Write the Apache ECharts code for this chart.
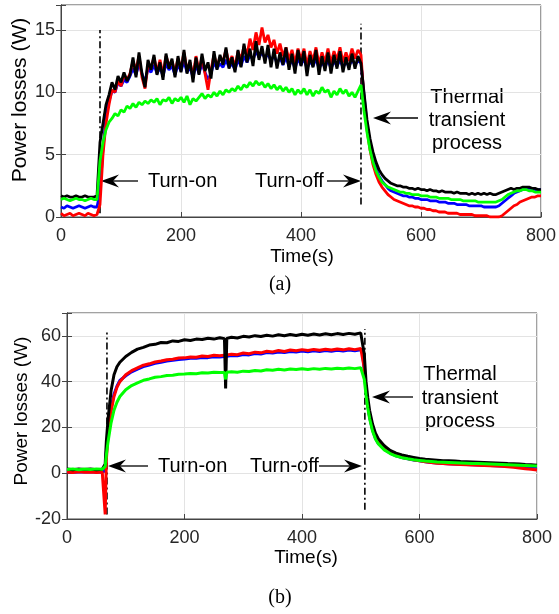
<!DOCTYPE html>
<html>
<head>
    <meta charset="utf-8" />
    <title>Power losses</title>
    <style>
        * { margin: 0; padding: 0 }
        html, body { width: 100%; height: 100%; background: #fff; }
        #chart { width: 559px; height: 614px; }
    </style>
</head>
<body>
    <div id="chart"></div>
    <script src="https://cdn.jsdelivr.net/npm/echarts@6/dist/echarts.min.js"></script>
    <script>
        // ---- (a) sampled every 5 s, 0..800
        const timeA = Array.from({ length: 161 }, (_, i) => i * 5);
        const blackA = [
            1.7, 1.6, 1.7, 1.6, 1.6, 1.7, 1.6, 1.6, 1.7, 1.6, 1.6, 1.6, 1.7,
            6.0, 7.5, 9.0, 9.8, 10.8, 10.2, 11.3, 10.8,
            11.6, 10.9, 11.4, 12.8, 11.2, 13.2, 11.5, 10.4, 12.6, 11.8,
            13.0, 11.4, 12.4, 11.0, 13.1, 11.9, 12.7, 11.2, 12.9, 11.6,
            13.4, 11.5, 12.6, 10.8, 12.8, 11.4, 13.1, 11.7, 12.4, 11.1,
            13.3, 11.8, 13.0, 12.2, 13.6, 11.9, 12.8, 11.6, 13.4, 12.0,
            13.9, 12.4, 13.5, 12.1, 14.1, 12.6, 13.7, 12.3, 13.8, 12.0,
            13.5, 11.9, 13.2, 12.2, 13.6, 11.8, 13.1, 11.5, 13.4, 12.1,
            13.3, 11.3, 13.0, 12.0, 13.4, 11.4, 12.9, 11.7, 13.2, 11.5,
            13.0, 11.9, 13.3, 11.6, 12.8, 11.8, 13.1, 11.9, 12.9, 12.3,
            10.0, 7.8, 6.3, 5.2, 4.4, 3.8, 3.4, 3.1, 2.9, 2.7,
            2.6, 2.5, 2.5, 2.4, 2.4, 2.3, 2.3, 2.2, 2.3, 2.2,
            2.2, 2.1, 2.2, 2.1, 2.1, 2.0, 2.1, 2.0, 2.0, 2.0,
            1.9, 2.0, 1.9, 1.9, 1.9, 1.8, 1.9, 1.8, 1.9, 1.8,
            1.9, 1.8, 1.9, 1.8, 1.8, 1.9, 2.0, 2.1, 2.2, 2.3,
            2.2, 2.3, 2.3, 2.4, 2.4, 2.4, 2.3, 2.3, 2.2, 2.2
        ];
        const redA = [
            0.3, 0.1, 0.2, 0.3, 0.1, 0.2, 0.3, 0.2, 0.1, 0.3, 0.2, 0.1, 0.2,
            1.0, 5.0, 7.5, 9.0, 10.2, 10.0, 11.0, 10.5,
            11.4, 11.0, 11.5, 12.5, 11.8, 12.9, 11.2, 10.3, 12.2, 12.0,
            12.8, 11.6, 12.6, 11.4, 12.9, 12.2, 12.5, 11.6, 12.7, 11.9,
            13.2, 11.8, 12.4, 11.3, 12.9, 11.7, 12.8, 11.5, 10.2, 11.8,
            13.0, 12.1, 12.8, 12.5, 13.4, 12.3, 12.9, 12.0, 13.3, 12.6,
            13.7, 13.0, 14.3, 13.4, 14.8, 13.8, 15.2, 14.0, 14.6, 13.6,
            14.2, 13.1, 13.9, 12.9, 13.6, 12.6, 13.4, 12.3, 13.5, 12.6,
            13.5, 12.1, 13.3, 12.5, 13.6, 12.2, 13.2, 12.4, 13.5, 12.3,
            13.3, 12.6, 13.6, 12.4, 13.2, 12.5, 13.5, 12.7, 13.4, 13.0,
            9.5, 7.0, 5.4, 4.2, 3.4, 2.8, 2.4, 2.1, 1.8, 1.6,
            1.4, 1.3, 1.2, 1.1, 1.0, 0.9, 0.9, 0.8, 0.8, 0.7,
            0.7, 0.6, 0.6, 0.5, 0.5, 0.4, 0.4, 0.4, 0.3, 0.3,
            0.3, 0.3, 0.2, 0.2, 0.2, 0.2, 0.2, 0.1, 0.1, 0.1,
            0.1, 0.1, 0.0, 0.0, 0.0, 0.0, 0.1, 0.3, 0.5, 0.7,
            0.9, 1.0, 1.2, 1.3, 1.4, 1.5, 1.6, 1.6, 1.7, 1.7
        ];
        const blueA = [
            0.8, 0.7, 0.9, 0.8, 0.7, 0.8, 0.9, 0.8, 0.7, 0.8, 0.9, 0.8, 0.8,
            2.0, 5.5, 8.0, 9.3, 10.1, 10.0, 10.8, 10.5,
            11.0, 10.8, 11.3, 11.9, 11.4, 12.3, 11.5, 10.8, 11.9, 11.6,
            12.2, 11.5, 12.0, 11.3, 12.3, 11.8, 12.1, 11.4, 12.2, 11.7,
            12.5, 11.6, 12.0, 11.2, 12.2, 11.5, 12.3, 11.6, 11.0, 11.5,
            12.4, 11.9, 12.3, 12.0, 12.6, 12.0, 12.3, 11.8, 12.6, 12.1,
            12.9, 12.4, 13.0, 12.6, 13.3, 12.8, 13.2, 12.7, 13.1, 12.5,
            13.0, 12.3, 12.8, 12.2, 12.8, 12.1, 12.6, 11.9, 12.7, 12.2,
            12.7, 11.9, 12.5, 12.1, 12.7, 11.9, 12.4, 12.0, 12.6, 11.9,
            12.5, 12.1, 12.6, 12.0, 12.4, 12.1, 12.6, 12.2, 12.5, 12.4,
            9.8, 7.4, 5.8, 4.7, 3.9, 3.3, 2.9, 2.6, 2.3, 2.1,
            2.0, 1.9, 1.8, 1.7, 1.7, 1.6, 1.6, 1.5, 1.5, 1.4,
            1.4, 1.4, 1.3, 1.3, 1.3, 1.2, 1.2, 1.2, 1.1, 1.1,
            1.1, 1.0, 1.0, 1.0, 1.0, 0.9, 0.9, 0.9, 0.9, 0.9,
            0.8, 0.8, 0.8, 0.8, 0.8, 0.9, 1.1, 1.3, 1.5, 1.7,
            1.9, 2.0, 2.1, 2.2, 2.3, 2.3, 2.3, 2.2, 2.2, 2.2
        ];
        const greenA = [
            1.4, 1.5, 1.4, 1.3, 1.4, 1.5, 1.4, 1.4, 1.3, 1.4, 1.5, 1.4, 1.4,
            4.5, 6.0, 7.0, 7.6, 7.9, 8.3, 8.1, 8.6,
            8.4, 8.9, 8.7, 9.1, 8.8, 9.2, 9.0, 9.3, 9.1, 9.4,
            9.2, 9.5, 9.0, 9.4, 9.3, 9.6, 9.1, 9.5, 9.3, 9.6,
            9.2, 9.7, 9.0, 9.5, 9.3, 9.6, 9.9, 9.5, 9.8, 9.6,
            10.0, 9.7, 10.1, 9.8, 10.2, 10.0, 10.3, 10.1, 10.5, 10.2,
            10.6, 10.4, 10.8, 10.5, 10.9, 10.6, 10.8, 10.4, 10.7, 10.3,
            10.6, 10.2, 10.5, 10.1, 10.4, 10.0, 10.3, 9.8, 10.2, 9.9,
            10.3, 9.8, 10.2, 9.7, 10.1, 9.9, 10.4, 10.0, 10.2, 9.6,
            10.1, 9.8, 10.3, 9.9, 10.2, 9.7, 10.0, 9.6, 10.1, 10.6,
            8.5, 6.8, 5.4, 4.4, 3.7, 3.2, 2.8, 2.6, 2.4, 2.3,
            2.2, 2.1, 2.0, 2.0, 1.9, 1.9, 1.8, 1.8, 1.8, 1.7,
            1.7, 1.7, 1.6, 1.6, 1.6, 1.5, 1.5, 1.5, 1.5, 1.4,
            1.4, 1.4, 1.4, 1.3, 1.3, 1.3, 1.3, 1.3, 1.2, 1.2,
            1.2, 1.2, 1.2, 1.2, 1.2, 1.3, 1.4, 1.6, 1.8, 1.9,
            2.0, 2.1, 2.1, 2.2, 2.2, 2.1, 2.1, 2.0, 2.0, 2.0
        ];
        // dash-dot event lines: time, low, high
        const eventTimeA = [65, 500];
        const eventLowA = [0.3, 1.0];
        const eventHighA = [15.0, 15.5];

        // ---- (b)
        const timeB = [0, 10, 20, 30, 40, 50, 60, 63, 65, 67, 70, 75, 80, 85, 90,
            100, 110, 120, 130, 140, 150, 160, 170, 180, 190, 200, 210, 220, 230, 240, 250, 260,
            268, 270, 272,
            280, 290, 300, 310, 320, 330, 340, 350, 360, 370, 380, 390, 400, 410, 420, 430, 440, 450, 460, 470, 480, 490, 500,
            503, 506, 509, 512, 515, 520, 525, 530,
            540, 550, 560, 570, 580, 590, 600, 610, 620, 630, 640, 650, 660, 670, 680, 690, 700, 710, 720, 730, 740, 750, 760, 770, 780, 790, 800];
        const blackB = [
            1.8, 1.5, 1.9, 1.6, 1.8, 1.5, 1.7,
            1.6, 4.0, 14.0,
            24.0, 36.0, 43.0, 46.5, 48.5,
            51.0, 52.8, 54.2, 55.0, 56.0, 56.3, 57.1, 57.0, 57.8, 57.6, 58.3, 58.0, 58.6, 58.4, 59.0, 58.6, 59.2,
            58.8, 37.0, 58.9,
            59.4, 59.1, 59.8, 59.5, 60.1, 59.7, 60.3, 59.9, 60.5, 60.1, 60.6, 60.2, 60.7, 60.3, 60.8, 60.4, 60.9, 60.5, 61.0, 60.6, 61.1, 60.7, 61.3,
            60.5, 52.0, 40.0, 33.0, 27.5,
            21.5, 17.5, 15.0,
            12.0, 10.0, 8.8, 8.0, 7.4, 6.9, 6.4, 6.1, 5.9, 5.7, 5.5, 5.4, 5.3, 5.1, 5.0, 4.9, 4.8, 4.7, 4.6, 4.5, 4.4, 4.2, 4.1, 4.0, 3.8, 3.7, 3.5
        ];
        const redB = [
            0.5, 0.3, 0.6, 0.4, 0.5, 0.3, 0.5,
            0.4, -18.0, 6.0,
            17.0, 27.0, 33.5, 37.5, 40.0,
            43.0, 44.8, 46.0, 47.2, 47.8, 48.6, 49.0, 49.6, 49.8, 50.3, 50.4, 50.8, 50.7, 51.2, 51.0, 51.5, 51.3,
            51.6, 51.4, 51.7,
            52.0, 51.8, 52.5, 52.2, 52.9, 52.6, 53.3, 53.0, 53.6, 53.2, 53.8, 53.5, 54.0, 53.6, 54.1, 53.7, 54.2, 53.8, 54.3, 53.9, 54.4, 54.0, 54.5,
            54.0, 46.0, 36.0, 30.0, 25.0,
            19.5, 15.8, 13.5,
            10.8, 9.0, 7.8, 7.0, 6.4, 5.9, 5.4, 5.0, 4.7, 4.4, 4.2, 4.0, 3.9, 3.8, 3.7, 3.6, 3.5, 3.4, 3.3, 3.2, 3.0, 2.8, 2.6, 2.3, 2.0, 1.7, 1.4
        ];
        const blueB = [
            0.6, 0.4, 0.5, 0.5, 0.6, 0.4, 0.5,
            0.5, 1.0, 9.0,
            19.0, 28.5, 34.5, 38.0, 40.5,
            42.6, 44.3, 45.5, 46.6, 47.3, 48.0, 48.5, 49.0, 49.3, 49.7, 49.9, 50.2, 50.2, 50.6, 50.5, 50.9, 50.8,
            51.0, 50.9, 51.1,
            51.4, 51.3, 51.9, 51.7, 52.3, 52.1, 52.7, 52.5, 53.0, 52.7, 53.2, 53.0, 53.4, 53.1, 53.5, 53.2, 53.6, 53.3, 53.7, 53.4, 53.8, 53.5, 53.9,
            53.0, 45.0, 35.5, 29.5, 24.5,
            19.0, 15.3, 13.0,
            10.5, 8.8, 7.6, 6.9, 6.3, 5.8, 5.4, 5.0, 4.7, 4.5, 4.3, 4.1, 4.0, 3.9, 3.8, 3.7, 3.6, 3.5, 3.4, 3.3, 3.2, 3.1, 3.0, 2.9, 2.8, 2.7, 2.6
        ];
        const greenB = [
            1.6, 1.9, 1.5, 1.8, 1.6, 1.9, 1.7,
            1.7, 3.0, 8.0,
            14.0, 22.0, 27.5, 31.0, 33.5,
            36.5, 38.3, 39.5, 40.6, 41.2, 41.9, 42.2, 42.7, 42.8, 43.2, 43.3, 43.6, 43.5, 43.9, 43.8, 44.1, 44.0,
            44.0, 41.0, 44.1,
            44.3, 44.1, 44.6, 44.4, 44.9, 44.7, 45.2, 45.0, 45.4, 45.1, 45.5, 45.3, 45.6, 45.3, 45.7, 45.4, 45.8, 45.5, 45.9, 45.6, 46.0, 45.7, 46.1,
            45.5, 41.0, 34.0, 28.5, 24.0,
            18.5, 15.0, 12.8,
            10.2, 8.6, 7.5, 6.8, 6.3, 5.9, 5.6, 5.3, 5.1, 4.9, 4.8, 4.7, 4.6, 4.5, 4.4, 4.3, 4.2, 4.1, 4.0, 3.9, 3.8, 3.7, 3.6, 3.5, 3.4, 3.3, 3.2
        ];
        const eventTimeB = [68, 507];
        const eventLowB = [-18, -16];
        const eventHighB = [61.5, 63];

        const xTicks = [0, 200, 400, 600, 800];
        const yTicksA = [0, 5, 10, 15];
        const yTicksB = [-20, 0, 20, 40, 60];

        const FONT = "'Liberation Sans', Arial, sans-serif";
        const pairs = (t, v) => t.map((x, i) => [x, v[i]]);

        const grids = [
            { left: 61, top: 5, width: 483, height: 212 },
            { left: 67, top: 313, width: 470, height: 206 }
        ];

        const xAxisFor = (gi) => ({
            type: 'value', gridIndex: gi, min: 0, max: 800, interval: 200,
            axisLine: { show: true, onZero: false, lineStyle: { color: '#444', width: 1 } },
            axisTick: { show: true, inside: true, length: 5, lineStyle: { color: '#444' } },
            axisLabel: {
                color: '#262626', fontSize: 18, fontFamily: FONT, margin: 10,
                formatter: v => xTicks.includes(v) ? String(v) : ''
            },
            splitLine: { show: true, lineStyle: { color: '#e3e3e3', width: 1 } }
        });
        const yAxisFor = (gi, min, max, step, ticks) => ({
            type: 'value', gridIndex: gi, min: min, max: max, interval: step,
            axisLine: { show: true, onZero: false, lineStyle: { color: '#444', width: 1 } },
            axisTick: { show: true, inside: true, length: 5, lineStyle: { color: '#444' } },
            axisLabel: {
                color: '#262626', fontSize: 18, fontFamily: FONT, margin: 6,
                formatter: v => ticks.includes(v) ? String(v) : ''
            },
            splitLine: { show: true, lineStyle: { color: '#e3e3e3', width: 1 } }
        });
        const yRightFor = (gi, min, max, step) => ({
            type: 'value', gridIndex: gi, min: min, max: max, interval: step, position: 'right',
            axisLine: { show: true, lineStyle: { color: '#444', width: 1 } },
            axisTick: { show: true, inside: true, length: 5, lineStyle: { color: '#444' } },
            axisLabel: { show: false },
            splitLine: { show: false }
        });

        const curve = (name, color, data, xi, yi, w) => ({
            name: name, type: 'line', xAxisIndex: xi, yAxisIndex: yi,
            data: data, symbol: 'none', silent: true, animation: false,
            lineStyle: { color: color, width: w }
        });
        const eventLines = (times, lows, highs, xi, yi) => times.map((t, i) => ({
            type: 'line', xAxisIndex: xi, yAxisIndex: yi, symbol: 'none', silent: true,
            data: [[t, lows[i]], [t, highs[i]]],
            lineStyle: { color: '#000', width: 1.6, type: [7, 3, 2, 3] }
        }));

        // arrow: tip at (x,y), tail at x2, dir = -1 pointing left, +1 pointing right
        const arrow = (x, y, x2, dir) => {
            const L = 18, W = 6.5, N = 12;
            const s = -dir;
            return [
                { type: 'line', shape: { x1: x + s * N, y1: y, x2: x2, y2: y }, style: { stroke: '#000', lineWidth: 1.3 } },
                {
                    type: 'polygon',
                    shape: { points: [[x, y], [x + s * L, y - W], [x + s * N, y], [x + s * L, y + W]] },
                    style: { fill: '#000' }
                }
            ];
        };
        const txt = (text, x, y, size, align, family, extra) => Object.assign({
            type: 'text', x: x, y: y,
            style: { text: text, font: size + 'px ' + (family || FONT), fill: '#000', align: align || 'left', verticalAlign: 'middle' }
        }, extra || {});

        const graphic = [
            // panel (a)
            txt('Power losses (W)', 20, 100, 21, 'center', FONT, { rotation: Math.PI / 2 }),
            txt('Time(s)', 302, 257, 19, 'center'),
            txt('(a)', 280, 285, 20, 'center', "'Liberation Serif', 'Times New Roman', serif"),
            txt('Turn-on', 148, 181, 20),
            txt('Turn-off', 255, 181, 20),
            txt('Thermal', 467, 97, 20, 'center'),
            txt('transient', 467, 120, 20, 'center'),
            txt('process', 467, 143, 20, 'center'),
            ...arrow(101, 181, 138, -1),
            ...arrow(361, 181, 327, 1),
            ...arrow(373, 118, 418, -1),
            // panel (b)
            txt('Power losses (W)', 22, 411, 19, 'center', FONT, { rotation: Math.PI / 2 }),
            txt('Time(s)', 306, 558, 19, 'center'),
            txt('(b)', 280, 598, 20, 'center', "'Liberation Serif', 'Times New Roman', serif"),
            txt('Turn-on', 158, 466, 20),
            txt('Turn-off', 250, 466, 20),
            txt('Thermal', 460, 374, 20, 'center'),
            txt('transient', 460, 398, 20, 'center'),
            txt('process', 460, 421, 20, 'center'),
            ...arrow(108, 466, 148, -1),
            ...arrow(362, 466, 319, 1),
            ...arrow(372, 397, 413, -1)
        ];

        const chart = echarts.init(document.getElementById('chart'), null, { renderer: 'canvas' });
        chart.setOption({
            animation: false,
            backgroundColor: '#fff',
            grid: grids.map(g => Object.assign({ show: true, borderColor: '#444', borderWidth: 1, backgroundColor: '#fff' }, g)),
            xAxis: [xAxisFor(0), xAxisFor(1)],
            yAxis: [
                yAxisFor(0, 0, 17, 5, yTicksA),
                yAxisFor(1, -20, 70, 20, yTicksB),
                yRightFor(0, 0, 17, 5),
                yRightFor(1, -20, 70, 20)
            ],
            series: [
                ...eventLines(eventTimeA, eventLowA, eventHighA, 0, 0),
                curve('blue', '#0000ff', pairs(timeA, blueA), 0, 0, 2.8),
                curve('red', '#ff0000', pairs(timeA, redA), 0, 0, 2.8),
                curve('black', '#000000', pairs(timeA, blackA), 0, 0, 2.8),
                curve('green', '#00ff00', pairs(timeA, greenA), 0, 0, 2.8),
                ...eventLines(eventTimeB, eventLowB, eventHighB, 1, 1),
                curve('blue', '#0000ff', pairs(timeB, blueB), 1, 1, 3),
                curve('red', '#ff0000', pairs(timeB, redB), 1, 1, 3),
                curve('black', '#000000', pairs(timeB, blackB), 1, 1, 3),
                curve('green', '#00ff00', pairs(timeB, greenB), 1, 1, 3)
            ],
            graphic: graphic
        });
    </script>
</body>
</html>
